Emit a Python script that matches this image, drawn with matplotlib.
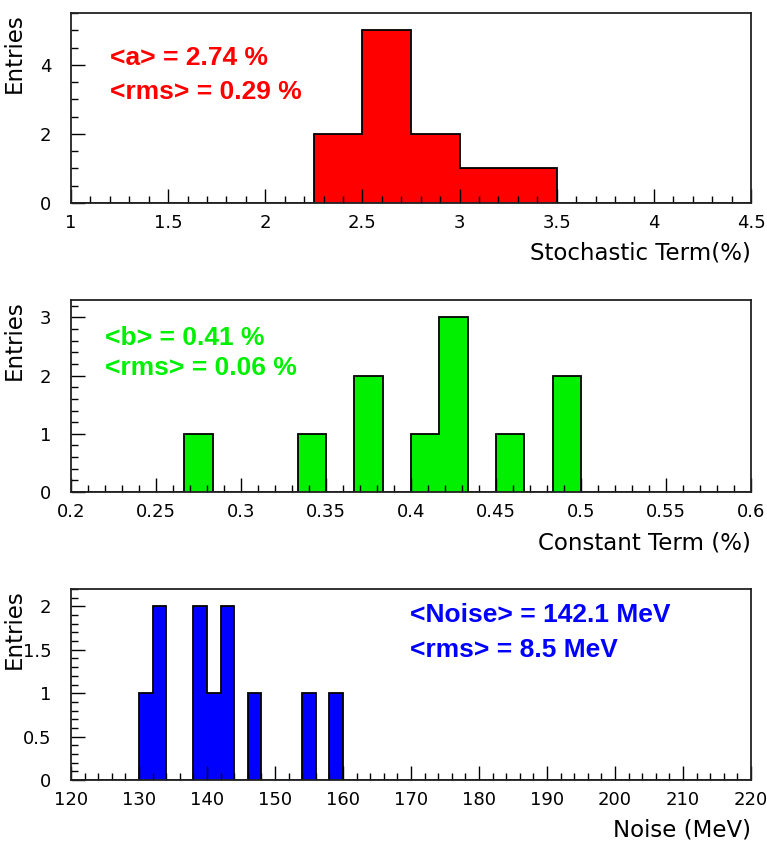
import numpy as np
import matplotlib
matplotlib.use("Agg")
from matplotlib import pyplot as plt
from matplotlib.ticker import MultipleLocator, FormatStrFormatter

# stochastic term a (%)
a_edges = np.arange(1.0, 4.5001, 0.25)
a_counts = [0, 0, 0, 0, 0, 2, 5, 2, 1, 1, 0, 0, 0, 0]

# constant term b (%), 24 bins over 0.2-0.6
b_edges = np.linspace(0.2, 0.6, 25)
b_counts = [0, 0, 0, 0, 1, 0, 0, 0, 1, 0, 2, 0,
            1, 3, 0, 1, 0, 2, 0, 0, 0, 0, 0, 0]

# noise (MeV), 2 MeV bins
n_edges = np.arange(120, 220.1, 2)
n_counts = np.zeros(50)
n_counts[[5, 6, 9, 10, 11, 13, 17, 19]] = [1, 2, 2, 1, 2, 1, 1, 1]

a_text = ["<a> = 2.74 %", "<rms> = 0.29 %"]
b_text = ["<b> = 0.41 %", "<rms> = 0.06 %"]
n_text = ["<Noise> = 142.1 MeV", "<rms> = 8.5 MeV"]

fig = plt.figure(figsize=(7.67, 8.47), dpi=100)
lbl_font = ['DejaVu Sans']
ann_font = ['Liberation Sans Narrow', 'Liberation Sans', 'DejaVu Sans']

panels = [
    # edges, counts, colour, xlim, ymax, xmaj, xmin, ymaj, ymin, fmt, xlabel, texts, text pos, axes rect
    (a_edges, a_counts, '#ff0000', (1, 4.5), 5.5, 0.5, 0.1, 2, 0.5, '%g',
     'Stochastic Term(%)', a_text, (0.057, 0.763, 0.584), [0.0926, 0.7603, 0.8866, 0.2243]),
    (b_edges, b_counts, '#00f000', (0.2, 0.6), 3.3, 0.05, 0.01, 1, 0.2, '%g',
     'Constant Term (%)', b_text, (0.05, 0.802, 0.646), [0.0926, 0.4191, 0.8866, 0.2267]),
    (n_edges, n_counts, '#0000ff', (120, 220), 2.2, 10, 2, 0.5, 0.1, '%g',
     'Noise (MeV)', n_text, (0.4985, 0.864, 0.681), [0.0926, 0.0791, 0.8866, 0.2255]),
]

for edges, counts, col, xl, ymax, xmaj, xmin, ymaj, ymin, fmt, xlab, txt, tpos, rect in panels:
    ax = fig.add_axes(rect)
    ax.stairs(counts, edges, fill=True, color=col, baseline=0)
    ax.stairs(counts, edges, fill=False, color='black', linewidth=1.3, baseline=0)
    ax.set_xlim(*xl)
    ax.set_ylim(0, ymax)
    ax.xaxis.set_major_locator(MultipleLocator(xmaj))
    ax.xaxis.set_minor_locator(MultipleLocator(xmin))
    ax.yaxis.set_major_locator(MultipleLocator(ymaj))
    ax.yaxis.set_minor_locator(MultipleLocator(ymin))
    ax.xaxis.set_major_formatter(FormatStrFormatter(fmt))
    ax.yaxis.set_major_formatter(FormatStrFormatter(fmt))
    ax.tick_params(which='both', direction='in', top=False, right=False, width=1, color='black')
    ax.tick_params(which='major', length=10)
    ax.tick_params(which='minor', length=5)
    ax.tick_params(axis='x', which='major', pad=8, labelsize=13)
    ax.tick_params(axis='y', which='major', pad=14, labelsize=13)
    for lab in ax.get_xticklabels() + ax.get_yticklabels():
        lab.set_family(lbl_font)
    for s in ax.spines.values():
        s.set_linewidth(1.3)
        s.set_color('#222222')
    ax.text(-0.084, 1.0, 'Entries', rotation=90, ha='center', va='top',
            transform=ax.transAxes, fontsize=16.5, family=lbl_font)
    ax.text(1.0, -0.263, xlab, ha='right', va='center',
            transform=ax.transAxes, fontsize=16.5, family=lbl_font)
    ax.text(tpos[0], tpos[1], txt[0], ha='left', va='center', color=col,
            transform=ax.transAxes, fontsize=19, fontweight='bold', family=ann_font)
    ax.text(tpos[0], tpos[2], txt[1], ha='left', va='center', color=col,
            transform=ax.transAxes, fontsize=19, fontweight='bold', family=ann_font)

fig.savefig('out.png', dpi=100)
